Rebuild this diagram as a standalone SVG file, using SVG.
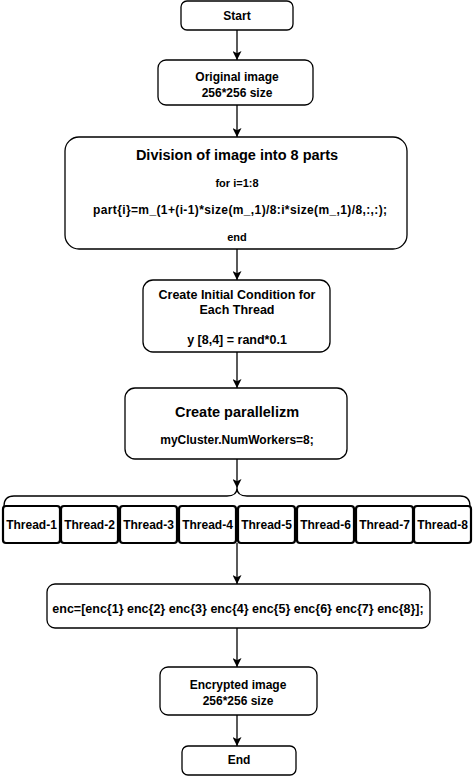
<svg xmlns="http://www.w3.org/2000/svg" width="474" height="777" viewBox="0 0 474 777">
<defs>
<marker id="arr" viewBox="0 0 10 10" refX="10" refY="5" markerWidth="9" markerHeight="9" markerUnits="userSpaceOnUse" orient="auto">
<path d="M0,0 L10,5 L0,10 L2.5,5 Z" fill="#000"/>
</marker>
</defs>
<style>
.box{fill:#fff;stroke:#000;stroke-width:1.3}
.th{fill:#fff;stroke:#000;stroke-width:2.2}
text{font-family:"Liberation Sans",Arial,sans-serif;font-weight:bold;fill:#000;text-anchor:middle;dominant-baseline:central}
.t12{font-size:12px}
.t125{font-size:12.5px}
.t11{font-size:11px}
.t14{font-size:14.5px}
.c{fill:none;stroke:#000;stroke-width:1.3}
</style>
<rect width="474" height="777" fill="#fff"/>
<g id="connectors">
<line class="c" x1="237" y1="30" x2="237" y2="60" marker-end="url(#arr)"/>
<line class="c" x1="237" y1="105" x2="237" y2="137" marker-end="url(#arr)"/>
<line class="c" x1="237" y1="249" x2="237" y2="280" marker-end="url(#arr)"/>
<line class="c" x1="237" y1="352" x2="237" y2="388" marker-end="url(#arr)"/>
<line class="c" x1="237" y1="459" x2="237" y2="488" marker-end="url(#arr)"/>
<path class="c" d="M4,506 Q4,496 14,496 L227,496 Q237,496 237,488 Q237,496 247,496 L460,496 Q470,496 470,506"/>
<line class="c" x1="237" y1="543" x2="237" y2="584" marker-end="url(#arr)"/>
<line class="c" x1="237" y1="628" x2="237" y2="667" marker-end="url(#arr)"/>
<line class="c" x1="237" y1="715" x2="237" y2="746" marker-end="url(#arr)"/>
</g>
<g id="start">
<rect class="box" x="181" y="1" width="112" height="29" rx="6"/>
<text class="t12" x="237" y="16">Start</text>
</g>
<g id="original">
<rect class="box" x="158" y="60" width="155" height="45" rx="8"/>
<text class="t12" x="237" y="77">Original image</text>
<text class="t12" x="237" y="93">256*256 size</text>
</g>
<g id="division">
<rect class="box" x="65" y="137" width="342" height="112" rx="14"/>
<text class="t14" x="237" y="155">Division of image into 8 parts</text>
<text class="t11" x="237" y="183">for i=1:8</text>
<text class="t12" x="240" y="210" textLength="294" lengthAdjust="spacing">part{i}=m_(1+(i-1)*size(m_,1)/8:i*size(m_,1)/8,:,:);</text>
<text class="t11" x="237" y="237">end</text>
</g>
<g id="initial">
<rect class="box" x="143" y="280" width="187" height="72" rx="10"/>
<text class="t125" x="237" y="295">Create Initial Condition for</text>
<text class="t125" x="237" y="310">Each Thread</text>
<text class="t125" x="237" y="340">y [8,4] = rand*0.1</text>
</g>
<g id="parallel">
<rect class="box" x="125" y="388" width="222" height="71" rx="10"/>
<text class="t14" x="237" y="412">Create parallelizm</text>
<text class="t12" x="237" y="440">myCluster.NumWorkers=8;</text>
</g>
<g id="thread1"><rect class="th" x="3" y="506" width="57" height="37" rx="3"/><text class="t12" x="31.5" y="525">Thread-1</text></g>
<g id="thread2"><rect class="th" x="61" y="506" width="57" height="37" rx="3"/><text class="t12" x="89.5" y="525">Thread-2</text></g>
<g id="thread3"><rect class="th" x="120" y="506" width="57" height="37" rx="3"/><text class="t12" x="148.5" y="525">Thread-3</text></g>
<g id="thread4"><rect class="th" x="179" y="506" width="57" height="37" rx="3"/><text class="t12" x="207.5" y="525">Thread-4</text></g>
<g id="thread5"><rect class="th" x="238" y="506" width="57" height="37" rx="3"/><text class="t12" x="266.5" y="525">Thread-5</text></g>
<g id="thread6"><rect class="th" x="297" y="506" width="57" height="37" rx="3"/><text class="t12" x="325.5" y="525">Thread-6</text></g>
<g id="thread7"><rect class="th" x="356" y="506" width="57" height="37" rx="3"/><text class="t12" x="384.5" y="525">Thread-7</text></g>
<g id="thread8"><rect class="th" x="414" y="506" width="57" height="37" rx="3"/><text class="t12" x="442.5" y="525">Thread-8</text></g>
<g id="enc">
<rect class="box" x="47" y="584" width="383" height="44" rx="8"/>
<text class="t125" x="238" y="609">enc=[enc{1} enc{2} enc{3} enc{4} enc{5} enc{6} enc{7} enc{8}];</text>
</g>
<g id="encrypted">
<rect class="box" x="160" y="667" width="157" height="48" rx="8"/>
<text class="t12" x="238" y="685">Encrypted image</text>
<text class="t12" x="238" y="701">256*256 size</text>
</g>
<g id="end">
<rect class="box" x="182" y="746" width="114" height="29" rx="6"/>
<text class="t12" x="239" y="760">End</text>
</g>
</svg>
